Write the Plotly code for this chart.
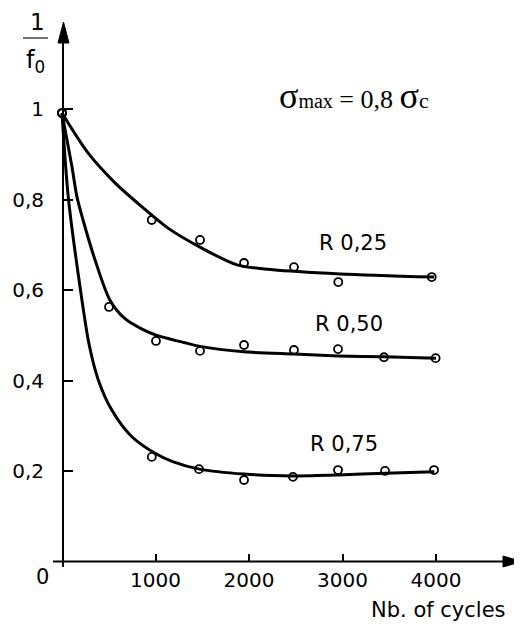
import plotly.graph_objects as go

# ---------------- data ----------------
# measured points (open circles)
r25_x = [0, 960, 1476, 1947, 2481, 2955, 3954]
r25_y = [0.991, 0.755, 0.711, 0.660, 0.651, 0.618, 0.629]

r50_x = [0, 503, 1005, 1476, 1947, 2481, 2952, 3444, 3996]
r50_y = [0.991, 0.563, 0.488, 0.466, 0.479, 0.468, 0.470, 0.452, 0.450]

r75_x = [0, 960, 1465, 1947, 2470, 2952, 3455, 3979]
r75_y = [0.991, 0.232, 0.205, 0.181, 0.188, 0.203, 0.201, 0.203]

# fitted curves
c25_x = [0, 278, 567, 856, 1134, 1476, 1872, 2257, 2973, 3979]
c25_y = [0.991, 0.903, 0.837, 0.784, 0.737, 0.695, 0.656, 0.645, 0.636, 0.629]

c50_x = [0, 107, 160, 225, 353, 513, 674, 856, 1005, 1316, 1476, 1947, 2481, 2952, 3444, 4000]
c50_y = [0.991, 0.872, 0.806, 0.755, 0.667, 0.578, 0.537, 0.514, 0.501, 0.484, 0.476, 0.464, 0.459, 0.455, 0.453, 0.450]

c75_x = [0, 67, 193, 290, 388, 531, 745, 995, 1191, 1469, 1950, 2474, 2955, 3455, 3982]
c75_y = [0.991, 0.806, 0.607, 0.480, 0.402, 0.336, 0.277, 0.240, 0.221, 0.205, 0.194, 0.190, 0.192, 0.196, 0.199]

series_labels = ["R 0,25", "R 0,50", "R 0,75"]
label_x = [3112, 3070, 3011]
label_y = [0.704, 0.525, 0.260]

x_tickvals = [1000, 2000, 3000, 4000]
x_ticktext = ["1000", "2000", "3000", "4000"]
y_tickvals = [0.2, 0.4, 0.6, 0.8, 1.0]
y_ticktext = ["0,2", "0,4", "0,6", "0,8", "1"]

# ---------------- figure geometry ----------------
OFF = 8                      # page body margin
W, H = 522 - OFF, 626 - OFF
X_RANGE = [(OFF - 62) / 0.0935, (522 - 62) / 0.0935]
Y_RANGE = [-(626 - 562) / 453, (562 - OFF) / 453]
FONT = "DejaVu Sans"


def px(xp):
    return (xp - OFF) / W


def py(yp):
    return 1 - (yp - OFF) / H


fig = go.Figure()

for cx, cy in [(c25_x, c25_y), (c50_x, c50_y), (c75_x, c75_y)]:
    fig.add_trace(go.Scatter(x=cx, y=cy, mode="lines",
                             line=dict(color="black", width=3, shape="spline", smoothing=0.8),
                             hoverinfo="skip", showlegend=False))

for mx, my in [(r25_x, r25_y), (r50_x, r50_y), (r75_x, r75_y)]:
    fig.add_trace(go.Scatter(x=mx, y=my, mode="markers",
                             marker=dict(symbol="circle-open", size=8, color="black",
                                         line=dict(width=1.8, color="black")),
                             showlegend=False, cliponaxis=False))

for t, lx, ly in zip(series_labels, label_x, label_y):
    fig.add_annotation(x=lx, y=ly, xref="x", yref="y", text=t, showarrow=False,
                       xanchor="center", yanchor="middle",
                       font=dict(family=FONT, size=21, color="black"))

# axis lines and arrowheads
shapes = [
    dict(type="line", xref="paper", yref="paper", x0=px(53), y0=py(561.5), x1=px(506), y1=py(561.5),
         line=dict(color="black", width=2)),
    dict(type="line", xref="paper", yref="paper", x0=px(63), y0=py(567), x1=px(63), y1=py(40),
         line=dict(color="black", width=2)),
    dict(type="path", xref="paper", yref="paper",
         path=f"M {px(503)},{py(556)} L {px(522)},{py(561.5)} L {px(503)},{py(567)} Z",
         fillcolor="black", line=dict(color="black", width=1)),
    dict(type="path", xref="paper", yref="paper",
         path=f"M {px(58)},{py(43)} L {px(63.5)},{py(22)} L {px(69)},{py(43)} Z",
         fillcolor="black", line=dict(color="black", width=1)),
    dict(type="line", xref="paper", yref="paper", x0=px(23), y0=py(38), x1=px(48), y1=py(38),
         line=dict(color="#444", width=1.5)),
]
fig.update_layout(shapes=shapes)


def paper_text(x, y, text, size, family=FONT, yanchor="middle"):
    fig.add_annotation(x=px(x), y=py(y), xref="paper", yref="paper", text=text, showarrow=False,
                       xanchor="center", yanchor=yanchor, borderpad=0,
                       font=dict(family=family, size=size, color="black"))


paper_text(37, 8, "1", 23, yanchor="top")
paper_text(35, 62, "f<sub>0</sub>", 24)
paper_text(42, 577, "0", 21)
paper_text(438.5, 610, "Nb. of cycles", 21)
paper_text(353.5, 96,
           '<span style="font-size:36px">σ</span><span style="font-size:20px">max</span>'
           ' = 0,8 <span style="font-size:36px">σ</span><span style="font-size:22px">c</span>',
           26, family="Liberation Serif")

fig.update_layout(
    width=W, height=H,
    margin=dict(l=0, r=0, t=0, b=0),
    paper_bgcolor="white", plot_bgcolor="white",
    showlegend=False,
    xaxis=dict(range=X_RANGE, anchor="free", position=py(561.5), showgrid=False, zeroline=False,
               showline=False, ticks="inside", ticklen=8, tickwidth=2, tickcolor="black",
               tickvals=x_tickvals, ticktext=x_ticktext, ticklabelstandoff=4,
               tickfont=dict(family=FONT, size=20, color="black")),
    yaxis=dict(range=Y_RANGE, anchor="free", position=px(63), showgrid=False, zeroline=False,
               showline=False, ticks="inside", ticklen=9, tickwidth=2, tickcolor="black",
               tickvals=y_tickvals, ticktext=y_ticktext, ticklabelstandoff=19,
               tickfont=dict(family=FONT, size=20, color="black")),
)

fig.write_html("out.html")
